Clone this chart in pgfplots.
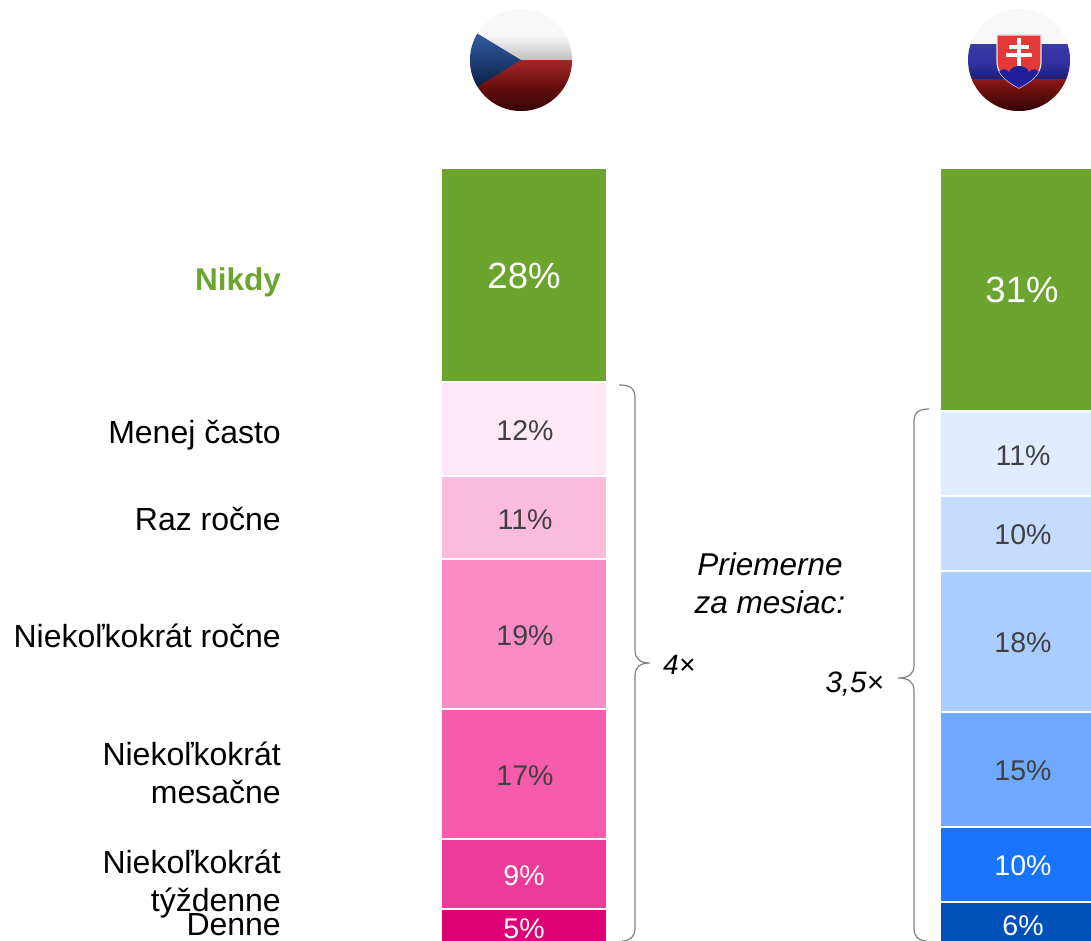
\documentclass[border=0pt]{standalone}
\usepackage{fontspec}
\setmainfont{Liberation Sans}
\usepackage{pgfplots}
\pgfplotsset{compat=1.18}
\usetikzlibrary{fadings}
\definecolor{grn}{HTML}{6BA42E}
\definecolor{p1}{HTML}{FEE8F6}\definecolor{p2}{HTML}{FBBBDD}\definecolor{p3}{HTML}{F98CC4}
\definecolor{p4}{HTML}{F75BAB}\definecolor{p5}{HTML}{EC3A98}\definecolor{p6}{HTML}{DE0074}
\definecolor{b1}{HTML}{E0ECFF}\definecolor{b2}{HTML}{C5DCFF}\definecolor{b3}{HTML}{AACDFF}
\definecolor{b4}{HTML}{6EAAFF}\definecolor{b5}{HTML}{1874FF}\definecolor{b6}{HTML}{0050B8}
\definecolor{lab}{HTML}{404040}
\definecolor{brc}{HTML}{808080}
\definecolor{czb}{HTML}{0F3E8E}
\definecolor{skb}{HTML}{20209A}
\definecolor{flr}{HTML}{D01C1C}
\tikzfading[name=botdark, top color=transparent!100, bottom color=transparent!0]
\tikzfading[name=topglow, top color=transparent!0, bottom color=transparent!100]
\pgfdeclareradialshading{rimshade}{\pgfpointorigin}{color(0bp)=(black); color(38bp)=(black); color(46bp)=(gray!55!black); color(50bp)=(gray!130!white)}
\pgfdeclarefading{rimf}{\pgfuseshading{rimshade}}
\pgfplotsset{base/.style={
  scale only axis, width=1091pt, height=941pt,
  xmin=0, xmax=1091, ymin=-22.105, ymax=101.71,
  y dir=reverse, axis lines=none, ticks=none,
  ybar stacked, bar width=166pt, anchor=south west, at={(0pt,0pt)}},
  seg/.style={fill=#1, draw=white, line width=2pt}}
\newcommand{\lb}[4][lab]{\node[anchor=base, text=#1, font=\fontsize{28.5}{30}\selectfont, inner sep=0pt] at (#2,#3) {#4};}
\newcommand{\rl}[2]{\node[anchor=base east, font=\fontsize{32}{34}\selectfont, inner sep=0pt] at (281,#1) {#2};}
\begin{document}
\begin{tikzpicture}
\useasboundingbox (0,0) rectangle (1091pt,941pt);
\begin{axis}[base]
\addplot[seg=grn] coordinates {(524,28.1)};
\addplot[seg=p1] coordinates {(524,12.4)};
\addplot[seg=p2] coordinates {(524,10.9)};
\addplot[seg=p3] coordinates {(524,19.8)};
\addplot[seg=p4] coordinates {(524,17.1)};
\addplot[seg=p5] coordinates {(524,9.2)};
\addplot[seg=p6] coordinates {(524,5)};
\end{axis}
\begin{axis}[base]
\addplot[seg=grn] coordinates {(1023,32.0)};
\addplot[seg=b1] coordinates {(1023,11.1)};
\addplot[seg=b2] coordinates {(1023,9.9)};
\addplot[seg=b3] coordinates {(1023,18.6)};
\addplot[seg=b4] coordinates {(1023,15.1)};
\addplot[seg=b5] coordinates {(1023,9.9)};
\addplot[seg=b6] coordinates {(1023,6)};
\end{axis}
\begin{scope}[x=1pt,y=-1pt,shift={(0pt,941pt)}]
% value labels
\node[anchor=base,text=white,font=\fontsize{36.5}{38}\selectfont,inner sep=0pt] at (524,289) {28\%};
\lb{525}{440.5}{12\%}
\lb{525}{529.5}{11\%}
\lb{525}{645.5}{19\%}
\lb{525}{785.5}{17\%}
\lb[white]{524}{885.5}{9\%}
\lb[white]{524}{939}{5\%}
\node[anchor=base,text=white,font=\fontsize{36.5}{38}\selectfont,inner sep=0pt] at (1022,303) {31\%};
\lb{1023}{465.5}{11\%}
\lb{1023}{544.5}{10\%}
\lb{1023}{652.5}{18\%}
\lb{1023}{780.5}{15\%}
\lb[white]{1023}{875.5}{10\%}
\lb[white]{1023}{935.5}{6\%}
% category labels
\node[anchor=base east,text=grn,font=\fontsize{31.5}{34}\selectfont\bfseries,inner sep=0pt] at (281,291) {Nikdy};
\rl{444}{Menej často}
\rl{531}{Raz ročne}
\rl{648}{Niekoľkokrát ročne}
\rl{766}{Niekoľkokrát}
\rl{804}{mesačne}
\rl{874}{Niekoľkokrát}
\rl{912}{týždenne}
\rl{936}{Denne}
% middle text
\node[anchor=base,font=\fontsize{31.5}{34}\selectfont\itshape,inner sep=0pt] at (770,576) {Priemerne};
\node[anchor=base,font=\fontsize{31.5}{34}\selectfont\itshape,inner sep=0pt] at (770,614) {za mesiac:};
\node[anchor=base west,font=\fontsize{28}{30}\selectfont\itshape,inner sep=0pt] at (663,675) {4×};
\node[anchor=base east,font=\fontsize{29.5}{30}\selectfont\itshape,inner sep=0pt] at (884,693) {3,5×};
% braces
\draw[brc,line width=1.2pt] (619,385) .. controls (630,385) and (635,388) .. (635,398)
  -- (635,650) .. controls (635,659) and (640,663) .. (650,663)
  .. controls (640,663) and (635,667) .. (635,676) -- (635,928)
  .. controls (635,937) and (630,941) .. (622,941);
\draw[brc,line width=1.2pt] (929,409) .. controls (919,409) and (914,412) .. (914,422)
  -- (914,665) .. controls (914,674) and (909,678) .. (898,678)
  .. controls (909,678) and (914,682) .. (914,691) -- (914,928)
  .. controls (914,937) and (919,941) .. (927,941);
% Czech flag
\begin{scope}
\clip (521,60) circle (51);
\fill[white!97!black] (470,9) rectangle (572,60);
\fill[flr] (470,60) rectangle (572,111);
\fill[czb] (450,17) -- (521,60) -- (450,103) -- cycle;
\fill[black,path fading=botdark] (470,35) rectangle (572,137);
\fill[white,opacity=.22,path fading=topglow] (470,10) rectangle (572,90);
\fill[black,path fading=rimf,fit fading=true] (521,60) circle (51);
\end{scope}
% Slovak flag
\begin{scope}
\clip (1019,60) circle (51);
\fill[white!97!black] (968,9) rectangle (1070,44);
\fill[skb] (968,44) rectangle (1070,79);
\fill[flr!90!black] (968,79) rectangle (1070,111);
\fill[black,path fading=botdark] (968,63) rectangle (1070,127);
\fill[white,opacity=.22,path fading=topglow] (968,10) rectangle (1070,90);
\fill[black,path fading=rimf,fit fading=true] (1019,60) circle (51);
\end{scope}
\draw[white!90!black,line width=1.2pt,fill=red!75!white!90!black] (997,35) -- (1041,35) -- (1041,62)
  .. controls (1041,75) and (1030,82) .. (1019,88) .. controls (1008,82) and (997,75) .. (997,62) -- cycle;
\begin{scope}
\clip (997,35) -- (1041,35) -- (1041,62) .. controls (1041,75) and (1030,82) .. (1019,88) .. controls (1008,82) and (997,75) .. (997,62) -- cycle;
\fill[skb] (997,88) -- (997,75) .. controls (1000,68) and (1006,68) .. (1009,72)
  .. controls (1012,64) and (1026,64) .. (1029,72) .. controls (1032,68) and (1038,68) .. (1041,75) -- (1041,88) -- cycle;
\end{scope}
\fill[white] (1017,38) rectangle (1021,66);
\fill[white] (1009,45) rectangle (1029,49);
\fill[white] (1006,53) rectangle (1032,57);
\end{scope}
\end{tikzpicture}
\end{document}
